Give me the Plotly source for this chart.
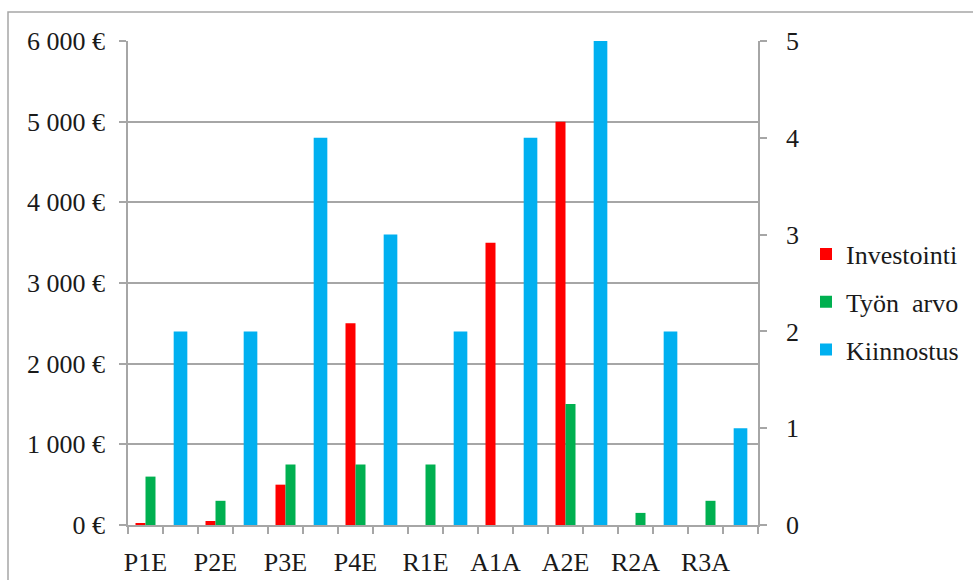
import plotly.graph_objects as go

# --- data -------------------------------------------------------------
categories = ["P1E", "P2E", "P3E", "P4E", "R1E", "A1A", "A2E", "R2A", "R3A"]
investointi = [20, 50, 500, 2500, 0, 3500, 5000, 0, 0]          # € (left axis)
tyon_arvo = [600, 300, 750, 750, 750, 0, 1500, 150, 300]        # € (left axis)
kiinnostus = [2, 2, 4, 3, 2, 4, 5, 2, 1]                        # score 0-5 (right axis)

left_ticks = [0, 1000, 2000, 3000, 4000, 5000, 6000]
left_ticktext = ["{:,}".format(v).replace(",", " ") + " €" for v in left_ticks]
right_ticks = [0, 1, 2, 3, 4, 5]

RED = "#FF0000"
GREEN = "#00B050"
BLUE = "#00B0F0"
GRID = "#A6A6A6"
TEXT = "#1A1A1A"
FONT = "Liberation Serif, Times New Roman, DejaVu Serif, serif"
FS = 26

# each category occupies two slots: € bars in the first, interest bar in the second
slot_main = [2 * i for i in range(len(categories))]
slot_side = [2 * i + 1 for i in range(len(categories))]
n_slots = 2 * len(categories)

bw = 0.2857  # width of one € bar in slot units
fig = go.Figure()
fig.add_trace(go.Bar(
    x=slot_main, y=investointi, name="Investointi",
    marker=dict(color=RED, line=dict(width=0)),
    width=bw, offset=-bw, legendgroup="a", yaxis="y",
))
fig.add_trace(go.Bar(
    x=slot_main, y=tyon_arvo, name="Työn\u00a0\u00a0arvo",
    marker=dict(color=GREEN, line=dict(width=0)),
    width=bw, offset=0, legendgroup="b", yaxis="y",
))
fig.add_trace(go.Bar(
    x=slot_side, y=kiinnostus, name="Kiinnostus",
    marker=dict(color=BLUE, line=dict(width=0)),
    width=0.39, offset=-0.195, legendgroup="c", yaxis="y2",
))

# plot area in pixels: x 128..758, y 41..525
L, R, T, B = 128, 758, 41, 525
W, H = 973, 580
pw, ph = R - L, B - T


def px_x(v):
    return (v - L) / pw


def px_y(v):
    return (B - v) / ph


axis_common = dict(
    showline=True, linecolor=GRID, linewidth=1.5,
    zeroline=False, fixedrange=True, automargin=False,
)

fig.update_layout(
    width=W, height=H,
    margin=dict(l=L, r=W - R, t=T, b=H - B, pad=0, autoexpand=False),
    paper_bgcolor="white", plot_bgcolor="white",
    barmode="overlay",
    font=dict(family=FONT, size=FS, color=TEXT),
    showlegend=True,
    legend=dict(
        x=px_x(806), xanchor="left",
        y=px_y(302), yanchor="middle",
        font=dict(family=FONT, size=FS, color=TEXT),
        tracegroupgap=11,
        traceorder="grouped",
        itemwidth=30,
        bgcolor="rgba(0,0,0,0)",
    ),
    xaxis=dict(
        range=[-0.5, n_slots - 0.5],
        tickmode="array",
        tickvals=slot_main,
        ticktext=categories,
        ticks="",
        ticklabelstandoff=13,
        showgrid=False,
        tickfont=dict(family=FONT, size=FS, color=TEXT),
        minor=dict(tickmode="linear", tick0=-0.5, dtick=1,
                   ticks="outside", ticklen=7, tickcolor=GRID, tickwidth=1.5,
                   showgrid=False),
        **axis_common,
    ),
    yaxis=dict(
        range=[0, 6000],
        tickmode="array", tickvals=left_ticks, ticktext=left_ticktext,
        ticks="outside", ticklen=7, tickcolor=GRID, tickwidth=1.5,
        ticklabelstandoff=9,
        showgrid=True, gridcolor=GRID, gridwidth=1.5,
        tickfont=dict(family=FONT, size=FS, color=TEXT),
        **axis_common,
    ),
    yaxis2=dict(
        range=[0, 5],
        overlaying="y", side="right",
        tickmode="array", tickvals=right_ticks,
        ticks="outside", ticklen=7, tickcolor=GRID, tickwidth=1.5,
        ticklabelstandoff=14,
        showgrid=False,
        tickfont=dict(family=FONT, size=FS, color=TEXT),
        **axis_common,
    ),
    shapes=[
        # outer chart frame (runs off the right and bottom edges)
        dict(type="rect", xref="paper", yref="paper",
             x0=px_x(8), x1=px_x(W + 20), y0=px_y(H + 20), y1=px_y(12),
             line=dict(color=GRID, width=1.5), fillcolor="rgba(0,0,0,0)",
             layer="below"),
    ],
)

fig.write_html("out.html")
